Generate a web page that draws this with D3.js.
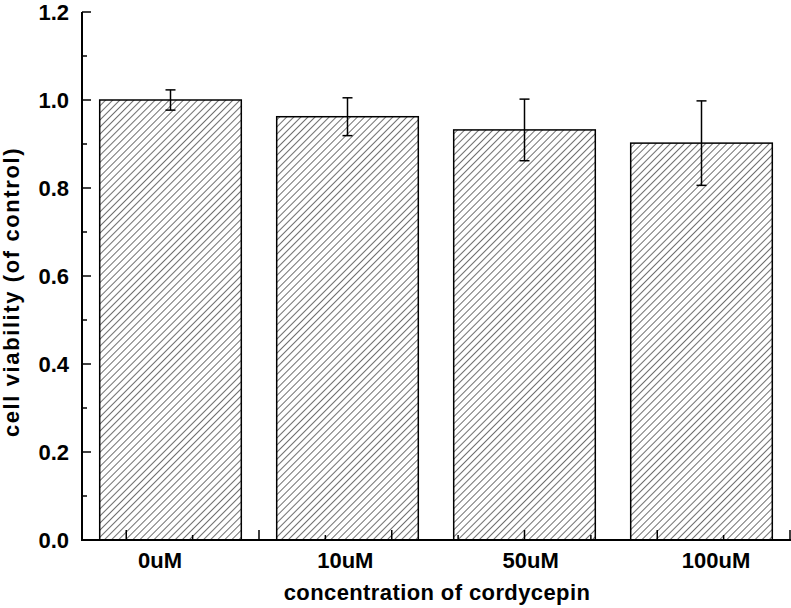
<!DOCTYPE html>
<html>
<head>
<meta charset="utf-8">
<script src="https://cdn.jsdelivr.net/npm/d3@7"></script>
<style>
	body { margin: 0; background: #fff; }
	svg { display: block; }
	text { font-family: Arial, "Liberation Sans", sans-serif; font-weight: bold; fill: #000; }
</style>
</head>
<body>
<div id="viz"></div>
<script>
// data
let categories = ["0uM", "10uM", "50uM", "100uM"];
let viability = [1.0, 0.962, 0.932, 0.902];
let errors = [0.023, 0.043, 0.070, 0.096];
let yTicks = [0.0, 0.2, 0.4, 0.6, 0.8, 1.0, 1.2];

function draw() {
	let width = 791, height = 608;

	let svg = d3.select("#viz").append("svg")
		.attr("width", width).attr("height", height);

	// hatch fill
	let pat = svg.append("defs").append("pattern")
		.attr("id", "hatch")
		.attr("patternUnits", "userSpaceOnUse")
		.attr("width", 5).attr("height", 5)
		.attr("patternTransform", "rotate(45)");
	pat.append("line")
		.attr("x1", 0).attr("y1", 0).attr("x2", 0).attr("y2", 5)
		.attr("stroke", "#222").attr("stroke-width", 1.3);

	// x is a numeric axis: bars sit at 1..4
	let x = d3.scaleLinear().domain([0.5, 4.5]).range([82, 790]);
	let y = d3.scaleLinear().domain([0, 1.2]).range([540, 12]);
	let labelPos = d3.scalePoint().domain(categories).range([160, 716]);

	let barW = 0.8;

	// bars
	svg.selectAll("rect.bar").data(viability).enter().append("rect")
		.attr("class", "bar")
		.attr("x", (d, i) => x(i + 1 - barW / 2))
		.attr("y", d => y(d))
		.attr("width", x(1 + barW) - x(1))
		.attr("height", d => y(0) - y(d))
		.attr("fill", "url(#hatch)")
		.attr("stroke", "#000").attr("stroke-width", 1.5);

	// error bars
	let eb = svg.selectAll("g.err").data(viability).enter().append("g")
		.attr("class", "err");
	eb.append("line")
		.attr("x1", (d, i) => x(i + 1)).attr("x2", (d, i) => x(i + 1))
		.attr("y1", (d, i) => y(d + errors[i])).attr("y2", (d, i) => y(d - errors[i]))
		.attr("stroke", "#000").attr("stroke-width", 1.5);
	eb.append("line")
		.attr("x1", (d, i) => x(i + 1) - 5).attr("x2", (d, i) => x(i + 1) + 5)
		.attr("y1", (d, i) => y(d + errors[i])).attr("y2", (d, i) => y(d + errors[i]))
		.attr("stroke", "#000").attr("stroke-width", 1.5);
	eb.append("line")
		.attr("x1", (d, i) => x(i + 1) - 5).attr("x2", (d, i) => x(i + 1) + 5)
		.attr("y1", (d, i) => y(d - errors[i])).attr("y2", (d, i) => y(d - errors[i]))
		.attr("stroke", "#000").attr("stroke-width", 1.5);

	// y axis: ticks point inward
	let yMinor = d3.range(0.1, 1.2, 0.2);
	svg.selectAll("line.ytick").data(yTicks).enter().append("line")
		.attr("x1", x(0.5)).attr("x2", x(0.5) + 9)
		.attr("y1", d => y(d)).attr("y2", d => y(d))
		.attr("stroke", "#000").attr("stroke-width", 1.5);
	svg.selectAll("line.yminor").data(yMinor).enter().append("line")
		.attr("x1", x(0.5)).attr("x2", x(0.5) + 5)
		.attr("y1", d => y(d)).attr("y2", d => y(d))
		.attr("stroke", "#000").attr("stroke-width", 1.5);
	svg.selectAll("text.ylab").data(yTicks).enter().append("text")
		.attr("x", 69).attr("y", d => y(d)).attr("dy", "0.36em")
		.attr("text-anchor", "end")
		.style("font-size", "22px")
		.text(d => d3.format(".1f")(d));

	// x axis: major every 0.75, minor halfway, pointing up
	let xMajor = d3.range(0.75, 4.51, 0.75);
	let xMinor = xMajor.map(v => v - 0.375);
	svg.selectAll("line.xtick").data(xMajor).enter().append("line")
		.attr("x1", d => x(d)).attr("x2", d => x(d))
		.attr("y1", y(0)).attr("y2", y(0) - 10)
		.attr("stroke", "#000").attr("stroke-width", 1.5);
	svg.selectAll("line.xminor").data(xMinor).enter().append("line")
		.attr("x1", d => x(d)).attr("x2", d => x(d))
		.attr("y1", y(0)).attr("y2", y(0) - 5)
		.attr("stroke", "#000").attr("stroke-width", 1.5);

	// axis lines
	svg.append("line")
		.attr("x1", x(0.5)).attr("y1", y(1.2))
		.attr("x2", x(0.5)).attr("y2", y(0) + 1)
		.attr("stroke", "#000").attr("stroke-width", 2);
	svg.append("line")
		.attr("x1", x(0.5) - 1).attr("y1", y(0))
		.attr("x2", width).attr("y2", y(0))
		.attr("stroke", "#000").attr("stroke-width", 2);

	// category labels
	svg.selectAll("text.xlab").data(categories).enter().append("text")
		.attr("x", d => labelPos(d)).attr("y", 568)
		.attr("text-anchor", "middle")
		.style("font-size", "22px")
		.text(d => d);

	// titles
	svg.append("text")
		.attr("x", 437).attr("y", 600)
		.attr("text-anchor", "middle")
		.style("font-size", "22px")
		.style("letter-spacing", "0.4px")
		.text("concentration of cordycepin");

	svg.append("text")
		.attr("transform", "translate(19,292) rotate(-90)")
		.attr("text-anchor", "middle")
		.style("font-size", "22px")
		.style("letter-spacing", "1.6px")
		.text("cell viability (of control)");
}

draw();
</script>
</body>
</html>
